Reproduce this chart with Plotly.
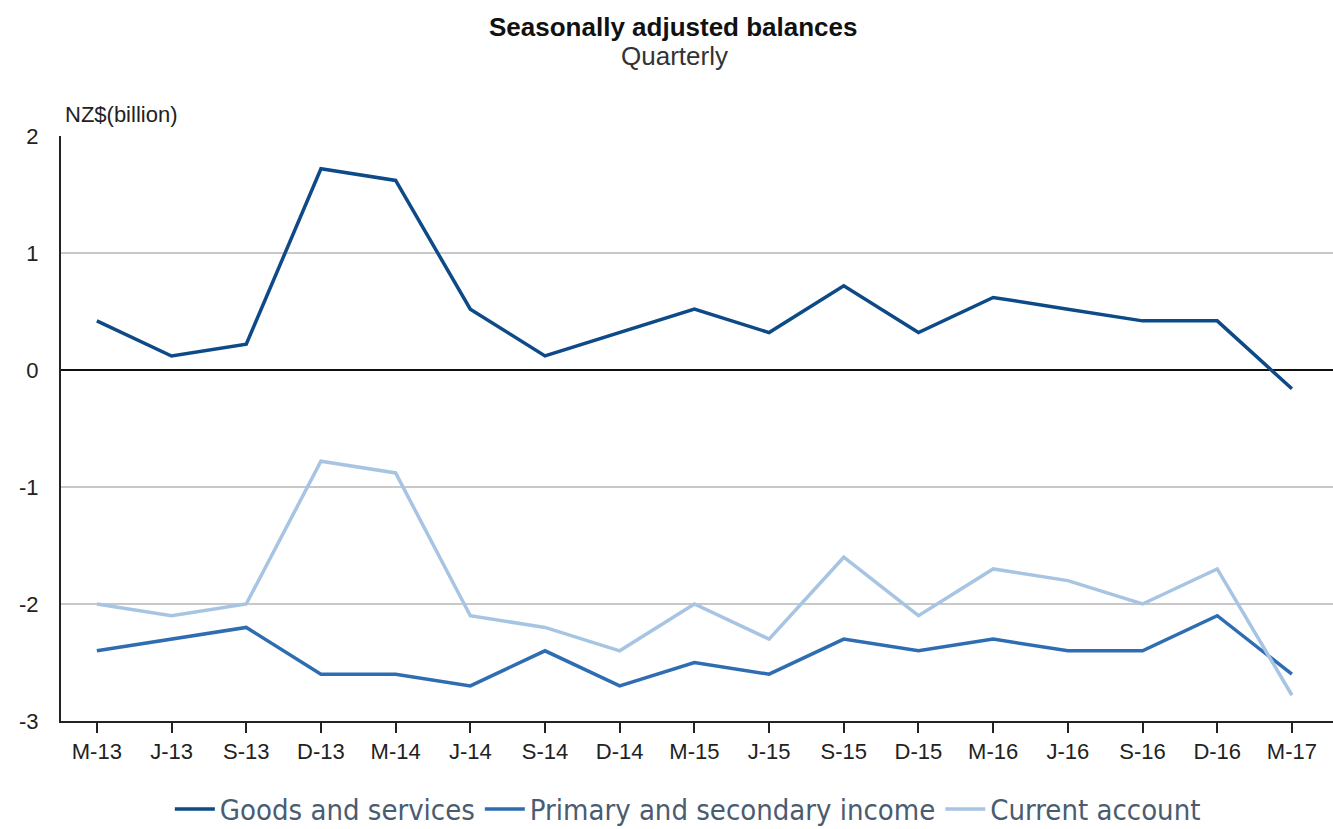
import plotly.graph_objects as go

quarters = ["M-13", "J-13", "S-13", "D-13", "M-14", "J-14", "S-14", "D-14",
            "M-15", "J-15", "S-15", "D-15", "M-16", "J-16", "S-16", "D-16", "M-17"]

goods_services = [0.42, 0.12, 0.22, 1.72, 1.62, 0.52, 0.12, 0.32,
                  0.52, 0.32, 0.72, 0.32, 0.62, 0.52, 0.42, 0.42, -0.16]
primary_secondary = [-2.4, -2.3, -2.2, -2.6, -2.6, -2.7, -2.4, -2.7,
                     -2.5, -2.6, -2.3, -2.4, -2.3, -2.4, -2.4, -2.1, -2.6]
current_account = [-2.0, -2.1, -2.0, -0.78, -0.88, -2.1, -2.2, -2.4,
                   -2.0, -2.3, -1.6, -2.1, -1.7, -1.8, -2.0, -1.7, -2.78]

y_ticks = [-3, -2, -1, 0, 1, 2]
y_tick_labels = ["-3", "-2", "-1", "0", "1", "2"]

series = [
    ("Goods and services", goods_services, "#0d4a87"),
    ("Primary and secondary income", primary_secondary, "#2f6db3"),
    ("Current account", current_account, "#a7c5e3"),
]

W, H = 1333, 829
ML, MR, MT, MB = 61, 0, 136, 108
PW, PH = W - ML - MR, H - MT - MB


def px_x(x):
    return (x - ML) / PW


def px_y(y):
    return (H - MB - y) / PH


fig = go.Figure()
idx = list(range(len(quarters)))
for name, vals, color in series:
    fig.add_trace(go.Scatter(x=idx, y=vals, mode="lines", name=name,
                             line=dict(color=color, width=3.5)))

fig.update_layout(
    width=W, height=H,
    margin=dict(l=ML, r=MR, t=MT, b=MB, autoexpand=False),
    paper_bgcolor="white", plot_bgcolor="white",
    font=dict(family="Liberation Sans, Arial, sans-serif", color="#222"),
    showlegend=True,
    legend=dict(orientation="h", x=0.516, xref="container", xanchor="center",
                y=0.024, yref="container", yanchor="middle",
                font=dict(family="DejaVu Sans Condensed, sans-serif", size=29, color="#4a5c70"),
                itemwidth=40, tracegroupgap=0),
    xaxis=dict(
        tickmode="array", tickvals=idx, ticktext=quarters,
        range=[-0.48, 16.55], showgrid=False, zeroline=False,
        showline=True, linecolor="#222", linewidth=2,
        ticks="outside", ticklen=10, tickwidth=1.5, tickcolor="#222",
        tickfont=dict(size=22, color="#222"),
    ),
    yaxis=dict(
        range=[-3, 2], tickvals=y_ticks, ticktext=y_tick_labels,
        showgrid=True, gridcolor="#c8c8c8", gridwidth=1.5,
        zeroline=True, zerolinecolor="#111", zerolinewidth=1.5,
        showline=True, linecolor="#222", linewidth=2,
        ticks="", tickfont=dict(size=22, color="#222"), ticklabelstandoff=16,
    ),
    annotations=[
        dict(text="<b>Seasonally adjusted balances</b>", xref="paper", yref="paper",
             x=px_x(673), y=px_y(27), xanchor="center", yanchor="middle", showarrow=False,
             font=dict(size=26, color="#111")),
        dict(text="Quarterly", xref="paper", yref="paper",
             x=px_x(674), y=px_y(56), xanchor="center", yanchor="middle", showarrow=False,
             font=dict(size=26, color="#333")),
        dict(text="NZ$(billion)", xref="paper", yref="paper", x=px_x(63), y=px_y(115),
             xanchor="left", yanchor="middle", showarrow=False,
             font=dict(size=22, color="#222")),
    ],
)

fig.write_html("out.html")
